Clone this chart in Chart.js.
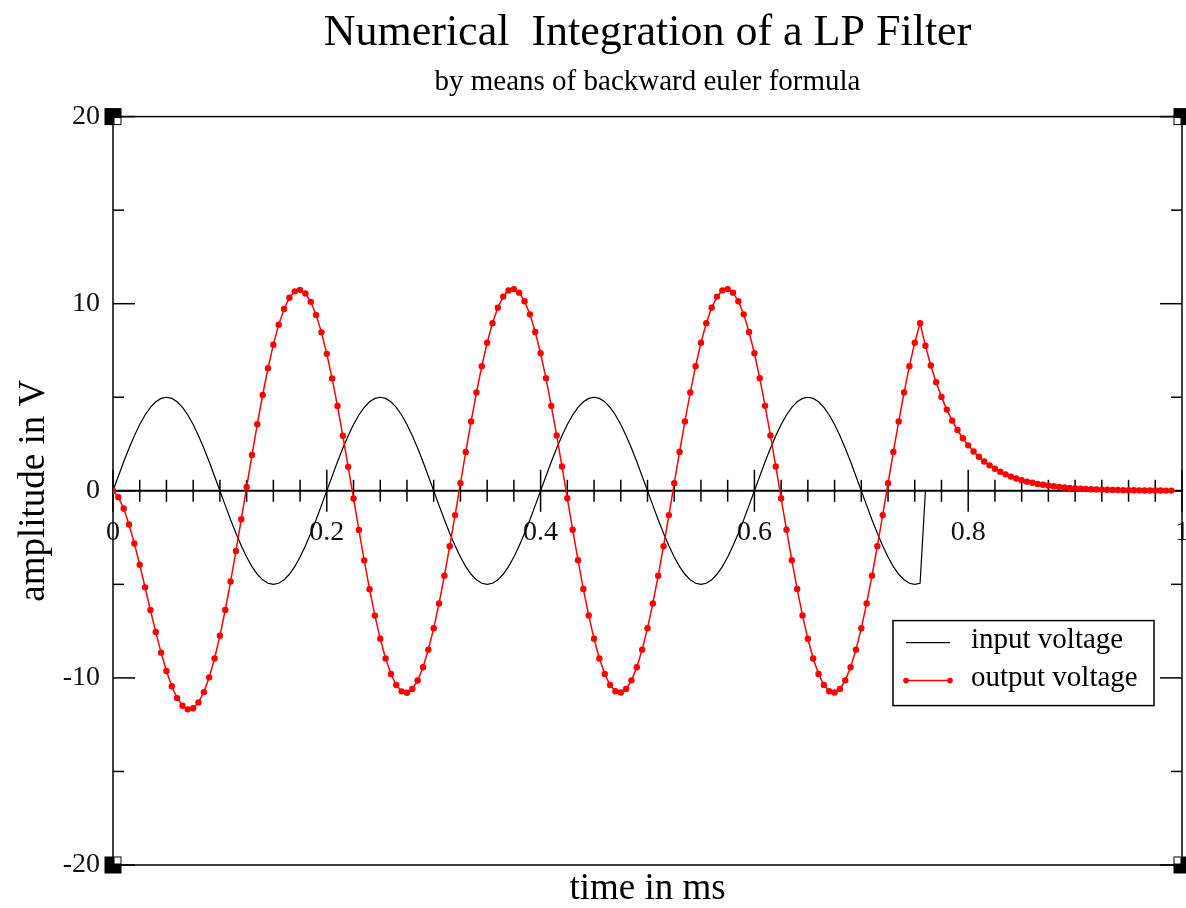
<!DOCTYPE html>
<html lang="en">
<head>
    <meta charset="UTF-8">
    <title>Numerical Integration of a LP Filter</title>
    <style>
        body {
            margin: 0;
            padding: 0;
            background-color: #ffffff;
        }
        #wrap {
            width: 1186px;
            height: 908px;
        }
    </style>
</head>
<body>
    <div id="wrap">
        <canvas id="lpChart" width="1186" height="908"></canvas>
    </div>

    <script src="https://cdn.jsdelivr.net/npm/chart.js"></script>
    <script>
        // time axis in ms (one sample every 0.005 ms)
        const time = [
            0, 0.005, 0.01, 0.015, 0.02, 0.025, 0.03, 0.035, 0.04, 0.045, 0.05, 0.055, 0.06, 0.065, 0.07, 0.075, 0.08, 0.085, 0.09, 0.095,
            0.1, 0.105, 0.11, 0.115, 0.12, 0.125, 0.13, 0.135, 0.14, 0.145, 0.15, 0.155, 0.16, 0.165, 0.17, 0.175, 0.18, 0.185, 0.19, 0.195,
            0.2, 0.205, 0.21, 0.215, 0.22, 0.225, 0.23, 0.235, 0.24, 0.245, 0.25, 0.255, 0.26, 0.265, 0.27, 0.275, 0.28, 0.285, 0.29, 0.295,
            0.3, 0.305, 0.31, 0.315, 0.32, 0.325, 0.33, 0.335, 0.34, 0.345, 0.35, 0.355, 0.36, 0.365, 0.37, 0.375, 0.38, 0.385, 0.39, 0.395,
            0.4, 0.405, 0.41, 0.415, 0.42, 0.425, 0.43, 0.435, 0.44, 0.445, 0.45, 0.455, 0.46, 0.465, 0.47, 0.475, 0.48, 0.485, 0.49, 0.495,
            0.5, 0.505, 0.51, 0.515, 0.52, 0.525, 0.53, 0.535, 0.54, 0.545, 0.55, 0.555, 0.56, 0.565, 0.57, 0.575, 0.58, 0.585, 0.59, 0.595,
            0.6, 0.605, 0.61, 0.615, 0.62, 0.625, 0.63, 0.635, 0.64, 0.645, 0.65, 0.655, 0.66, 0.665, 0.67, 0.675, 0.68, 0.685, 0.69, 0.695,
            0.7, 0.705, 0.71, 0.715, 0.72, 0.725, 0.73, 0.735, 0.74, 0.745, 0.75, 0.755, 0.76, 0.765, 0.77, 0.775, 0.78, 0.785, 0.79, 0.795,
            0.8, 0.805, 0.81, 0.815, 0.82, 0.825, 0.83, 0.835, 0.84, 0.845, 0.85, 0.855, 0.86, 0.865, 0.87, 0.875, 0.88, 0.885, 0.89, 0.895,
            0.9, 0.905, 0.91, 0.915, 0.92, 0.925, 0.93, 0.935, 0.94, 0.945, 0.95, 0.955, 0.96, 0.965, 0.97, 0.975, 0.98, 0.985, 0.99
        ];

        // input voltage (V), stops at 0.76 ms
        const inputVoltage = [
            0, 0.78, 1.55, 2.27, 2.94, 3.54, 4.05, 4.46, 4.76, 4.94, 5, 4.94, 4.76, 4.46, 4.05, 3.54, 2.94, 2.27, 1.55, 0.78,
            0, -0.78, -1.55, -2.27, -2.94, -3.54, -4.05, -4.46, -4.76, -4.94, -5, -4.94, -4.76, -4.46, -4.05, -3.54, -2.94, -2.27, -1.55, -0.78,
            0, 0.78, 1.55, 2.27, 2.94, 3.54, 4.05, 4.46, 4.76, 4.94, 5, 4.94, 4.76, 4.46, 4.05, 3.54, 2.94, 2.27, 1.55, 0.78,
            0, -0.78, -1.55, -2.27, -2.94, -3.54, -4.05, -4.46, -4.76, -4.94, -5, -4.94, -4.76, -4.46, -4.05, -3.54, -2.94, -2.27, -1.55, -0.78,
            0, 0.78, 1.55, 2.27, 2.94, 3.54, 4.05, 4.46, 4.76, 4.94, 5, 4.94, 4.76, 4.46, 4.05, 3.54, 2.94, 2.27, 1.55, 0.78,
            0, -0.78, -1.55, -2.27, -2.94, -3.54, -4.05, -4.46, -4.76, -4.94, -5, -4.94, -4.76, -4.46, -4.05, -3.54, -2.94, -2.27, -1.55, -0.78,
            0, 0.78, 1.55, 2.27, 2.94, 3.54, 4.05, 4.46, 4.76, 4.94, 5, 4.94, 4.76, 4.46, 4.05, 3.54, 2.94, 2.27, 1.55, 0.78,
            0, -0.78, -1.55, -2.27, -2.94, -3.54, -4.05, -4.46, -4.76, -4.94, -5, -4.94, 0
        ];

        // output voltage (V)
        const outputVoltage = [
            0, -0.34, -0.95, -1.80, -2.82, -3.95, -5.16, -6.37, -7.55, -8.65, -9.63, -10.45, -11.08, -11.49, -11.68, -11.62, -11.31, -10.76, -9.97, -8.96,
            -7.75, -6.37, -4.85, -3.22, -1.52, 0.20, 1.91, 3.56, 5.12, 6.55, 7.81, 8.88, 9.72, 10.32, 10.66, 10.74, 10.55, 10.10, 9.40, 8.47,
            7.32, 6.00, 4.53, 2.94, 1.28, -0.41, -2.09, -3.72, -5.26, -6.67, -7.91, -8.96, -9.79, -10.38, -10.72, -10.79, -10.59, -10.14, -9.43, -8.49,
            -7.35, -6.02, -4.54, -2.96, -1.30, 0.40, 2.08, 3.71, 5.25, 6.66, 7.91, 8.96, 9.79, 10.38, 10.71, 10.78, 10.59, 10.13, 9.43, 8.49,
            7.35, 6.02, 4.54, 2.96, 1.30, -0.40, -2.08, -3.71, -5.25, -6.66, -7.91, -8.96, -9.79, -10.38, -10.71, -10.78, -10.59, -10.13, -9.43, -8.49,
            -7.35, -6.02, -4.54, -2.96, -1.30, 0.40, 2.08, 3.71, 5.25, 6.66, 7.91, 8.96, 9.79, 10.38, 10.71, 10.78, 10.59, 10.13, 9.43, 8.49,
            7.35, 6.02, 4.54, 2.96, 1.30, -0.40, -2.08, -3.71, -5.25, -6.66, -7.91, -8.96, -9.79, -10.38, -10.71, -10.78, -10.59, -10.13, -9.43, -8.49,
            -7.35, -6.02, -4.54, -2.96, -1.30, 0.40, 2.08, 3.71, 5.25, 6.66, 7.91, 8.96, 7.75, 6.70, 5.80, 5.02, 4.34, 3.75, 3.25, 2.81,
            2.43, 2.10, 1.82, 1.57, 1.36, 1.18, 1.02, 0.88, 0.76, 0.66, 0.57, 0.49, 0.43, 0.37, 0.32, 0.28, 0.24, 0.21, 0.18, 0.15,
            0.133, 0.115, 0.100, 0.086, 0.075, 0.065, 0.056, 0.048, 0.042, 0.036, 0.031, 0.027, 0.023, 0.020, 0.017, 0.015, 0.013, 0.011, 0.010
        ];

        const seriesLabels = ['input voltage', 'output voltage'];
        const yMinorTicks = [-15, -5, 5, 15];
        const yMajorTicks = [-20, -10, 0, 10, 20];

        const serif = "'Liberation Serif', 'Times New Roman', serif";
        const ink = '#000000';
        const red = '#ff0000';

        function toPoints(values) {
            return values.map((v, i) => ({ x: time[i], y: v }));
        }

        function line(ctx, x1, y1, x2, y2) {
            ctx.beginPath();
            ctx.moveTo(x1, y1);
            ctx.lineTo(x2, y2);
            ctx.stroke();
        }

        // frame, zero axis and the inward ticks (grace style)
        const gracePlugin = {
            id: 'grace',
            beforeDatasetsDraw(chart) {
                const { ctx, chartArea: a, scales: { x, y } } = chart;
                ctx.save();
                ctx.strokeStyle = ink;
                ctx.lineWidth = 1.5;
                ctx.strokeRect(a.left, a.top, a.right - a.left, a.bottom - a.top);

                yMajorTicks.forEach(v => {
                    const py = y.getPixelForValue(v);
                    line(ctx, a.left, py, a.left + 22, py);
                    line(ctx, a.right - 22, py, a.right, py);
                });
                yMinorTicks.forEach(v => {
                    const py = y.getPixelForValue(v);
                    line(ctx, a.left, py, a.left + 11, py);
                    line(ctx, a.right - 11, py, a.right, py);
                });

                // x axis drawn through zero
                const y0 = y.getPixelForValue(0);
                ctx.lineWidth = 2;
                line(ctx, a.left, y0, a.right, y0);
                ctx.lineWidth = 1.5;
                for (let k = 0; k <= 40; k++) {
                    const px = x.getPixelForValue(k * 0.025);
                    const len = k % 8 === 0 ? 21 : 11;
                    line(ctx, px, y0 - len, px, y0 + len);
                }
                ctx.restore();
            },
            afterDatasetsDraw(chart) {
                const { ctx, chartArea: a } = chart;
                ctx.save();

                // legend box
                const lx = a.right - 289, ly = a.top + 504;
                ctx.fillStyle = '#ffffff';
                ctx.fillRect(lx, ly, 261, 85);
                ctx.strokeStyle = ink;
                ctx.lineWidth = 1.5;
                ctx.strokeRect(lx, ly, 261, 85);

                ctx.font = '29px ' + serif;
                ctx.textBaseline = 'middle';
                ctx.textAlign = 'left';
                ctx.fillStyle = ink;

                ctx.lineWidth = 1.2;
                line(ctx, lx + 13, ly + 22, lx + 57, ly + 22);
                ctx.fillText(chart.data.datasets[1].label, lx + 78, ly + 20);

                ctx.strokeStyle = red;
                ctx.fillStyle = red;
                ctx.lineWidth = 1.5;
                line(ctx, lx + 13, ly + 60, lx + 57, ly + 60);
                [lx + 13, lx + 57].forEach(px => {
                    ctx.beginPath();
                    ctx.arc(px, ly + 60, 2.8, 0, Math.PI * 2);
                    ctx.fill();
                });
                ctx.fillStyle = ink;
                ctx.fillText(chart.data.datasets[0].label, lx + 78, ly + 58);

                // corner handles
                const corners = [
                    [a.left, a.top, 1, 1], [a.right, a.top, -1, 1],
                    [a.left, a.bottom, 1, -1], [a.right, a.bottom, -1, -1]
                ];
                corners.forEach(([cx, cy, sx, sy]) => {
                    ctx.fillStyle = ink;
                    ctx.fillRect(cx - 8.5, cy - 8.5, 17, 17);
                    ctx.fillStyle = '#ffffff';
                    const wx = sx > 0 ? cx + 1.5 : cx - 7.5;
                    const wy = sy > 0 ? cy + 1.5 : cy - 7.5;
                    ctx.fillRect(wx, wy, 6, 6);
                });
                ctx.restore();
            }
        };

        let lpChart;

        window.onload = function() {
            lpChart = new Chart(document.getElementById('lpChart'), {
                type: 'line',
                data: {
                    datasets: [{
                        label: seriesLabels[1],
                        data: toPoints(outputVoltage),
                        borderColor: red,
                        backgroundColor: red,
                        borderWidth: 1.5,
                        pointRadius: 3.2,
                        pointBorderWidth: 0,
                        pointBackgroundColor: red,
                        tension: 0,
                        order: 1
                    }, {
                        label: seriesLabels[0],
                        data: toPoints(inputVoltage),
                        borderColor: ink,
                        borderWidth: 1.2,
                        pointRadius: 0,
                        tension: 0,
                        order: 2
                    }]
                },
                options: {
                    responsive: false,
                    animation: false,
                    devicePixelRatio: 1,
                    layout: { padding: { left: 0, right: 2, top: 0, bottom: 0 } },
                    plugins: {
                        legend: { display: false },
                        tooltip: { enabled: false },
                        title: {
                            display: true,
                            fullSize: false,
                            text: 'Numerical  Integration of a LP Filter',
                            color: ink,
                            font: { family: serif, size: 44, weight: 'normal', lineHeight: 1.2 },
                            padding: { top: 7, bottom: 0 }
                        },
                        subtitle: {
                            display: true,
                            fullSize: false,
                            text: 'by means of backward euler formula',
                            color: ink,
                            font: { family: serif, size: 29, weight: 'normal', lineHeight: 1.2 },
                            padding: { top: 5, bottom: 17 }
                        }
                    },
                    scales: {
                        x: {
                            type: 'linear',
                            position: { y: 0 },
                            min: 0,
                            max: 1,
                            grid: { display: false, drawTicks: false },
                            border: { display: false },
                            ticks: {
                                stepSize: 0.2, padding: 25, color: '#111', font: { family: serif, size: 28 },
                                maxRotation: 0, autoSkip: false,
                                callback: v => String(Math.round(v * 10) / 10)
                            },
                            afterFit(s) { s.paddingLeft = 0; s.paddingRight = 0; }
                        },
                        x2: {
                            type: 'linear',
                            position: 'bottom',
                            min: 0,
                            max: 1,
                            grid: { display: false, drawTicks: false },
                            border: { display: false },
                            ticks: { display: false },
                            title: { display: true, text: 'time in ms', color: ink, font: { family: serif, size: 37, lineHeight: 1 }, padding: { top: 0, bottom: 0 } },
                            afterFit(s) { s.height = 43; s.paddingLeft = 0; s.paddingRight = 0; }
                        },
                        y: {
                            position: 'left',
                            min: -20,
                            max: 20,
                            grid: { display: false, drawTicks: false },
                            border: { display: false },
                            ticks: { stepSize: 10, padding: 13, color: '#111', font: { family: serif, size: 28 } },
                            title: { display: true, text: 'amplitude in V', color: ink, font: { family: serif, size: 37, lineHeight: 1 }, padding: { top: 16, bottom: 0 } },
                            afterFit(s) { s.width = 113; }
                        }
                    }
                },
                plugins: [gracePlugin]
            });
        };
    </script>
</body>
</html>
